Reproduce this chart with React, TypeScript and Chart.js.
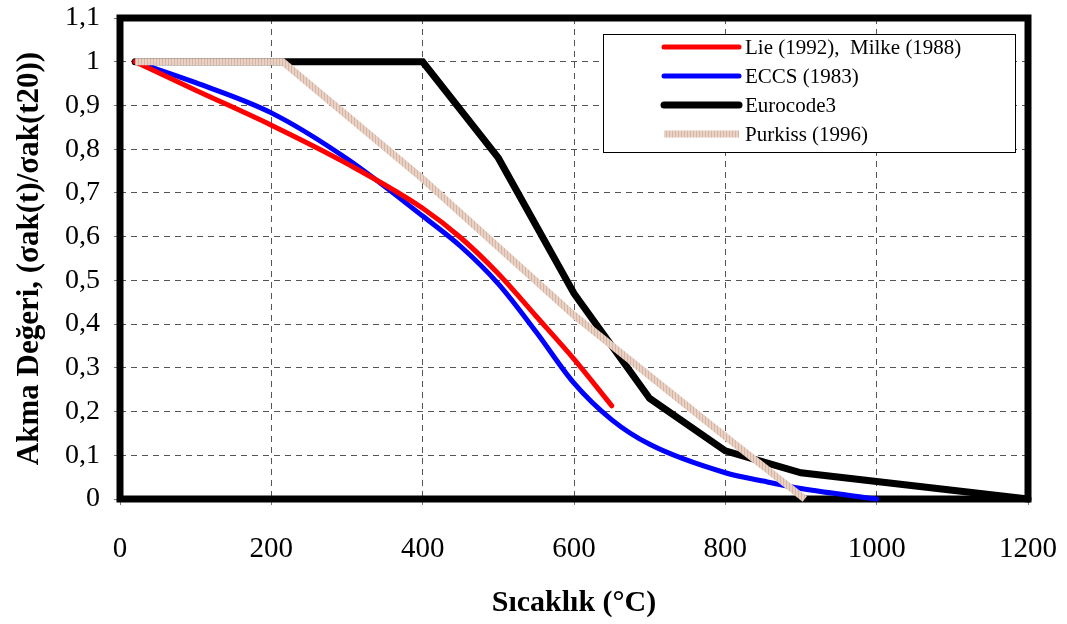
import React, { useEffect, useRef } from "react";
import { Chart, registerables } from "chart.js";

Chart.register(...registerables);

// ---- data ----
const xTicks = [0, 200, 400, 600, 800, 1000, 1200];
const yTicks = [0, 0.1, 0.2, 0.3, 0.4, 0.5, 0.6, 0.7, 0.8, 0.9, 1, 1.1];

const seriesLabels = ["Lie (1992),  Milke (1988)", "ECCS (1983)", "Eurocode3", "Purkiss (1996)"];

const lieTemps = [20, 100, 200, 300, 400, 450, 500, 550, 600, 650];
const lieValues = [1, 0.935, 0.855, 0.767, 0.665, 0.598, 0.515, 0.418, 0.32, 0.213];

const eccsTemps = [20, 100, 200, 300, 400, 450, 500, 550, 600, 650, 700, 800, 850, 900, 1000];
const eccsValues = [1, 0.952, 0.883, 0.778, 0.647, 0.578, 0.492, 0.382, 0.265, 0.181, 0.125, 0.06, 0.041, 0.024, 0];

const ec3Temps = [20, 400, 500, 600, 700, 800, 900, 1000, 1100, 1200];
const ec3Values = [1, 1, 0.78, 0.47, 0.23, 0.11, 0.06, 0.04, 0.02, 0];

const purkissTemps = [20, 215, 400, 600, 800, 905];
const purkissValues = [1, 1, 0.732, 0.42, 0.143, 0];

const FONT = "'Liberation Serif', 'Times New Roman', serif";

const toPoints = (xs: number[], ys: number[]) => xs.map((x, i) => ({ x, y: ys[i] }));
const fmt = (v: number) => String(Math.round(v * 10) / 10).replace(".", ",");

const zeroPad = (s: any) => {
  s.paddingLeft = 0;
  s.paddingRight = 0;
  s.paddingTop = 0;
  s.paddingBottom = 0;
};

const framePlugin = {
  id: "frame",
  beforeDatasetsDraw(chart: any) {
    const { ctx, chartArea } = chart;
    ctx.save();
    ctx.strokeStyle = "#000";
    ctx.lineWidth = 7;
    ctx.lineJoin = "miter";
    ctx.strokeRect(chartArea.left, chartArea.top, chartArea.right - chartArea.left, chartArea.bottom - chartArea.top);
    ctx.restore();
  },
};

const legendPlugin = {
  id: "boxLegend",
  afterDatasetsDraw(chart: any) {
    const { ctx, chartArea } = chart;
    const x0 = chartArea.right - 425;
    const y0 = chartArea.top + 16;
    const w = 412;
    const h = 118;
    ctx.save();
    ctx.fillStyle = "#fff";
    ctx.fillRect(x0, y0, w, h);
    ctx.strokeStyle = "#000";
    ctx.lineWidth = 1;
    ctx.strokeRect(x0 + 0.5, y0 + 0.5, w, h);
    chart.data.datasets.forEach((ds: any, i: number) => {
      const cy = y0 + 13 + i * 29;
      ctx.beginPath();
      ctx.strokeStyle = ds.borderColor;
      ctx.lineWidth = ds.legendWidth;
      ctx.lineCap = ds.borderCapStyle || "butt";
      ctx.moveTo(x0 + 61, cy);
      ctx.lineTo(x0 + 136, cy);
      ctx.stroke();
      ctx.fillStyle = "#000";
      ctx.font = `21px ${FONT}`;
      ctx.textBaseline = "middle";
      ctx.textAlign = "left";
      ctx.fillText(ds.label, x0 + 142, cy + 1);
    });
    ctx.restore();
  },
};

export default function App() {
  const ref = useRef<HTMLCanvasElement | null>(null);

  useEffect(() => {
    document.body.style.margin = "0";
    const canvas = ref.current;
    if (!canvas) return;

    const pc = document.createElement("canvas");
    pc.width = 3;
    pc.height = 3;
    const pctx = pc.getContext("2d")!;
    pctx.fillStyle = "#E8D2C5";
    pctx.fillRect(0, 0, 3, 3);
    pctx.fillStyle = "#D8B4A4";
    pctx.fillRect(0, 0, 1, 3);
    const ctx = canvas.getContext("2d")!;
    const purkissPattern = ctx.createPattern(pc, "repeat") || "#E0C4B5";

    const chart = new Chart(canvas, {
      type: "line",
      data: {
        datasets: [
          {
            label: seriesLabels[0],
            data: toPoints(lieTemps, lieValues),
            borderColor: "#FF0000",
            borderWidth: 5,
            legendWidth: 5,
            borderCapStyle: "round",
            borderJoinStyle: "round",
            cubicInterpolationMode: "monotone",
            pointRadius: 0,
            fill: false,
            clip: false,
            order: 1,
          } as any,
          {
            label: seriesLabels[1],
            data: toPoints(eccsTemps, eccsValues),
            borderColor: "#0000FF",
            borderWidth: 5,
            legendWidth: 5,
            borderCapStyle: "round",
            borderJoinStyle: "round",
            cubicInterpolationMode: "monotone",
            pointRadius: 0,
            fill: false,
            clip: false,
            order: 2,
          } as any,
          {
            label: seriesLabels[2],
            data: toPoints(ec3Temps, ec3Values),
            borderColor: "#000000",
            borderWidth: 7,
            legendWidth: 7,
            borderCapStyle: "round",
            borderJoinStyle: "miter",
            tension: 0,
            pointRadius: 0,
            fill: false,
            clip: false,
            order: 3,
          } as any,
          {
            label: seriesLabels[3],
            data: toPoints(purkissTemps, purkissValues),
            borderColor: purkissPattern,
            borderWidth: 7,
            legendWidth: 7,
            borderCapStyle: "butt",
            borderJoinStyle: "miter",
            tension: 0,
            pointRadius: 0,
            fill: false,
            clip: false,
            order: 0,
          } as any,
        ],
      },
      options: {
        animation: false,
        responsive: false,
        devicePixelRatio: 1,
        layout: { padding: { top: 18, right: 39, left: 0, bottom: 0 } },
        plugins: { legend: { display: false }, tooltip: { enabled: false } },
        scales: {
          x: {
            type: "linear",
            min: 0,
            max: 1200,
            afterBuildTicks: (s: any) => {
              s.ticks = xTicks.map((v) => ({ value: v }));
            },
            afterFit: (s: any) => {
              s.height = 125;
              zeroPad(s);
            },
            ticks: {
              color: "#000",
              font: { family: FONT, size: 29 },
              padding: 27,
              maxRotation: 0,
              autoSkip: false,
              callback: (v: any) => String(v),
            },
            grid: { color: "#555", lineWidth: 1, tickLength: 6, tickColor: "#777", drawTicks: true },
            border: { display: false, dash: [6, 5] },
            title: {
              display: true,
              text: "Sıcaklık (°C)",
              color: "#000",
              font: { family: FONT, size: 30, weight: "bold" },
              padding: { top: 0, bottom: 3 },
            },
          },
          y: {
            type: "linear",
            min: 0,
            max: 1.1,
            afterBuildTicks: (s: any) => {
              s.ticks = yTicks.map((v) => ({ value: v }));
            },
            afterFit: (s: any) => {
              s.width = 120;
              zeroPad(s);
            },
            ticks: {
              color: "#000",
              font: { family: FONT, size: 28 },
              padding: 14,
              autoSkip: false,
              callback: (v: any) => fmt(Number(v)),
            },
            grid: { color: "#555", lineWidth: 1, tickLength: 6, tickColor: "#777", drawTicks: true },
            border: { display: false, dash: [6, 5] },
            title: {
              display: true,
              text: "Akma Değeri, (σak(t)/σak(t20))",
              color: "#000",
              font: { family: FONT, size: 31, weight: "bold" },
              padding: { top: 11, bottom: 0 },
            },
          },
        },
      } as any,
      plugins: [framePlugin, legendPlugin],
    });

    return () => chart.destroy();
  }, []);

  return (
    <div style={{ position: "fixed", left: 0, top: 0, width: 1067, height: 624, background: "#fff" }}>
      <canvas ref={ref} width={1067} height={624} style={{ width: 1067, height: 624, display: "block" }} />
    </div>
  );
}
